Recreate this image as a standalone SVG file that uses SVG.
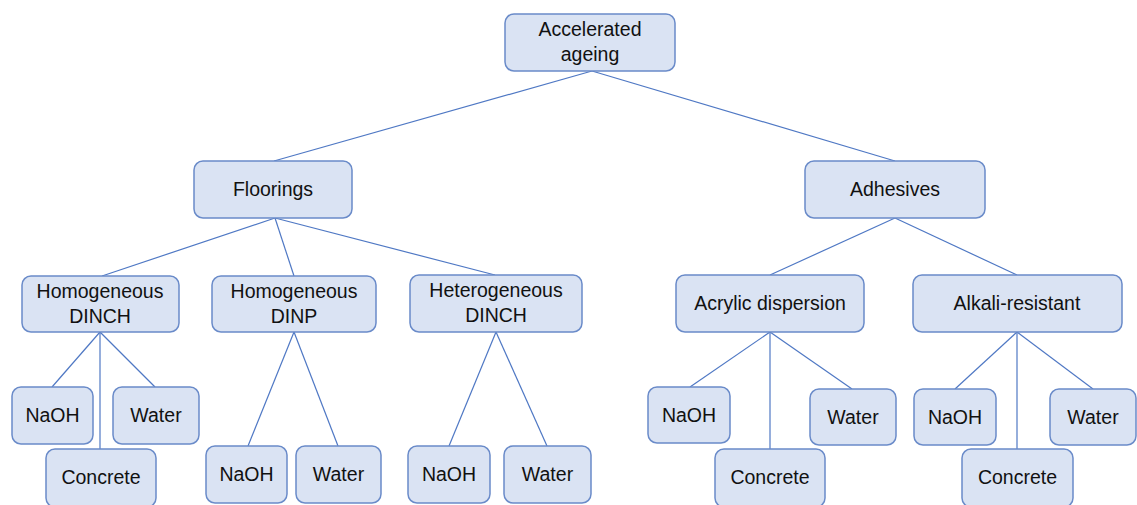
<svg xmlns="http://www.w3.org/2000/svg" width="1137" height="505" viewBox="0 0 1137 505">
<style>
.n rect{fill:#DAE3F3;stroke:#6A8BC9;stroke-width:1.5}
.n text{font-family:"Liberation Sans",Arial,sans-serif;font-size:19.5px;fill:#111;text-anchor:middle}
#edges line{stroke:#4F78C4;stroke-width:1.2}
</style>
<rect width="1137" height="505" fill="#fff"/>
<g id="edges">
<line x1="592" y1="71" x2="274" y2="161"/>
<line x1="592" y1="71" x2="895" y2="161"/>
<line x1="275" y1="218" x2="102" y2="276"/>
<line x1="275" y1="218" x2="294" y2="276"/>
<line x1="275" y1="218" x2="495" y2="275"/>
<line x1="895" y1="218" x2="770" y2="275"/>
<line x1="895" y1="218" x2="1017" y2="275"/>
<line x1="100" y1="332" x2="52" y2="387"/>
<line x1="100" y1="332" x2="100" y2="449"/>
<line x1="100" y1="332" x2="155" y2="387"/>
<line x1="294" y1="332" x2="248" y2="446"/>
<line x1="294" y1="332" x2="338" y2="446"/>
<line x1="496" y1="332" x2="449" y2="446"/>
<line x1="496" y1="332" x2="547" y2="446"/>
<line x1="770" y1="332" x2="690" y2="387"/>
<line x1="770" y1="332" x2="770" y2="449"/>
<line x1="770" y1="332" x2="852" y2="389"/>
<line x1="1017" y1="332" x2="955" y2="389"/>
<line x1="1017" y1="332" x2="1017" y2="449"/>
<line x1="1017" y1="332" x2="1093" y2="389"/>
</g>
<g id="root" class="n"><rect x="505" y="14" width="170" height="57" rx="9"/><text x="590" y="36">Accelerated</text><text x="590" y="61">ageing</text></g>
<g id="floorings" class="n"><rect x="194" y="161" width="158" height="57" rx="9"/><text x="273" y="196">Floorings</text></g>
<g id="adhesives" class="n"><rect x="805" y="161" width="180" height="57" rx="9"/><text x="895" y="196">Adhesives</text></g>
<g id="homDINCH" class="n"><rect x="22" y="276" width="157" height="56" rx="9"/><text x="100" y="298">Homogeneous</text><text x="100" y="323">DINCH</text></g>
<g id="homDINP" class="n"><rect x="212" y="276" width="164" height="56" rx="9"/><text x="294" y="298">Homogeneous</text><text x="294" y="323">DINP</text></g>
<g id="hetDINCH" class="n"><rect x="410" y="275" width="172" height="57" rx="9"/><text x="496" y="297">Heterogeneous</text><text x="496" y="322">DINCH</text></g>
<g id="acrylic" class="n"><rect x="676" y="275" width="188" height="57" rx="9"/><text x="770" y="310">Acrylic dispersion</text></g>
<g id="alkali" class="n"><rect x="913" y="275" width="209" height="57" rx="9"/><text x="1017" y="310">Alkali-resistant</text></g>
<g id="n1naoh" class="n"><rect x="12" y="387" width="81" height="57" rx="9"/><text x="52.5" y="422">NaOH</text></g>
<g id="n1water" class="n"><rect x="113" y="387" width="86" height="57" rx="9"/><text x="156" y="422">Water</text></g>
<g id="n1concrete" class="n"><rect x="46" y="449" width="110" height="58" rx="9"/><text x="101" y="484">Concrete</text></g>
<g id="n2naoh" class="n"><rect x="206" y="446" width="81" height="57" rx="9"/><text x="246.5" y="481">NaOH</text></g>
<g id="n2water" class="n"><rect x="296" y="446" width="85" height="57" rx="9"/><text x="338.5" y="481">Water</text></g>
<g id="n3naoh" class="n"><rect x="408" y="446" width="82" height="57" rx="9"/><text x="449" y="481">NaOH</text></g>
<g id="n3water" class="n"><rect x="504" y="446" width="87" height="57" rx="9"/><text x="547.5" y="481">Water</text></g>
<g id="n4naoh" class="n"><rect x="648" y="387" width="82" height="56" rx="9"/><text x="689" y="422">NaOH</text></g>
<g id="n4water" class="n"><rect x="810" y="389" width="86" height="56" rx="9"/><text x="853" y="424">Water</text></g>
<g id="n4concrete" class="n"><rect x="715" y="449" width="110" height="58" rx="9"/><text x="770" y="484">Concrete</text></g>
<g id="n5naoh" class="n"><rect x="914" y="389" width="82" height="56" rx="9"/><text x="955" y="424">NaOH</text></g>
<g id="n5water" class="n"><rect x="1050" y="389" width="86" height="56" rx="9"/><text x="1093" y="424">Water</text></g>
<g id="n5concrete" class="n"><rect x="962" y="449" width="111" height="58" rx="9"/><text x="1017.5" y="484">Concrete</text></g>
</svg>
